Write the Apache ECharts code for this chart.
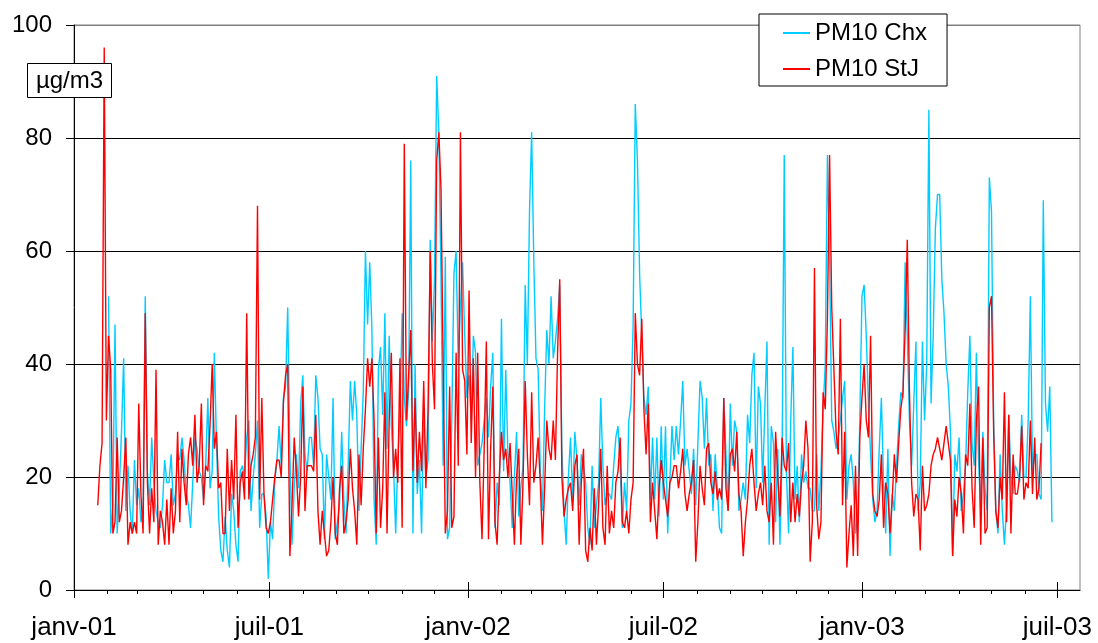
<!DOCTYPE html>
<html><head><meta charset="utf-8">
<script src="https://cdn.jsdelivr.net/npm/echarts@6/dist/echarts.min.js"></script>
<style>html,body{margin:0;padding:0;background:#fff}#c{width:1098px;height:643px}</style>
</head><body><div id="c"></div>
<script>
// Daily PM10 (µg/m3), one value every 2 days
const stepDays = 2;
const stjStart = [2001, 0, 23];
const chxStart = [2001, 1, 2];

const stjA = [15,22,26,96,30,45,39,10,12,27, 12,14,20,27,8,12,10,12,10,33, 17,10,49,19,10,18,12,39,8,14, 12,8,16,8,18,10,14,28,12,25, 19,15,24,27,22,31,19,22,33,15, 22,21,29,40,25,28,18,19,10,10, 25,14,23,16,31,11,19,21,16,49, 16,22,24,27,68,16,34,17,11,10, 12,16,20,23,23,20,33,38,40,6];
const stjB = [15,27,21,13,20,36,14,22,22,22, 21,31,14,8,14,10,6,7,12,20, 10,8,18,22,10,12,16,25,18,14, 8,24,15,25,32,41,36,41,30,10, 27,11,18,35,10,30,42,20,25,19, 41,11,79,30,38,46,21,34,19,28, 21,37,18,32,60,40,32,76,81,71, 40,10,14,36,11,13,42,22,81,39, 37,24,53,26,41,20,42,19,9,25];
const stjC = [44,9,25,36,12,8,20,28,23,25, 20,26,17,8,20,25,8,19,37,24, 15,35,19,22,27,19,8,18,30,25, 23,30,23,42,55,20,13,16,18,19, 14,22,24,8,19,25,7,5,11,7, 18,8,15,25,11,8,22,10,14,11, 19,21,27,12,11,14,10,16,19,49, 40,38,48,32,24,33,12,19,14,9, 18,23,19,16,13,19,20,22,22,18];
const stjD = [21,25,17,14,17,19,23,5,12,22, 18,15,25,26,19,17,21,16,18,16, 34,18,14,24,25,21,28,17,14,6, 12,16,22,25,19,14,17,19,15,22, 14,12,19,8,28,20,13,27,22,21, 26,12,19,12,17,13,19,22,30,25, 5,12,57,15,9,12,35,32,48,77, 50,39,28,24,48,15,28,4,10,15, 6,22,6,27,34,40,30,27,45,17];
const stjE = [14,13,16,24,11,19,17,10,16,24, 19,26,32,35,46,62,35,19,13,17, 16,7,22,14,15,17,22,24,25,27, 25,23,26,29,26,23,6,16,13,20, 17,10,24,22,33,18,11,30,36,8, 27,10,11,50,52,28,14,11,20,16, 35,12,31,10,24,17,17,20,29,16, 19,18,30,17,27,16,18,26];

const chxA = [52,10,15,47,10, 18,28,41,14,22,14,10,23,15,18, 12,14,52,21,15,27,19,14,12,11, 15,23,19,19,24,15,17,24,23,27, 23,17,15,11,19,27,25,21,20,16, 22,34,18,21,42,26,13,7,5,13, 7,4,17,14,8,5,21,22,20,27, 30,14,20,24,30,11,17,17,13,2, 12,9,19,23,29,22,34,36,50,24];
const chxB = [8,18,24,18,33,38,24,21,27,27, 22,38,34,25,24,9,24,20,16,34, 9,12,15,28,16,10,22,37,30,37, 31,14,25,35,60,47,58,46,16,8, 39,43,31,49,25,45,29,22,10,23, 32,49,34,29,35,76,10,40,17,23, 10,32,20,23,62,44,55,91,81,55, 22,59,9,11,30,56,60,40,50,58, 45,34,38,30,45,42,22,24,26,30];
const chxC = [34,27,36,42,11,19,15,48,21,39, 24,19,11,20,28,13,18,22,54,40, 67,81,58,41,39,21,14,32,46,40, 52,41,44,48,54,25,14,8,20,27, 16,28,23,15,24,22,19,11,8,22, 11,15,19,34,22,15,17,17,16,22, 27,29,22,11,19,14,30,33,47,86, 76,56,45,34,31,36,16,27,16,27, 13,29,16,29,10,19,29,23,29,24];
const chxD = [30,37,22,25,21,17,25,15,26,37, 34,25,34,22,24,14,24,18,11,10, 34,24,14,33,22,30,28,14,16,19, 16,31,26,38,42,18,36,33,19,32, 44,8,29,26,12,25,8,23,77,21, 10,30,43,16,22,12,24,19,21,18, 18,14,14,24,14,21,32,40,77,59, 30,28,25,27,30,34,37,16,22,24, 19,10,13,30,52,54,45,33,24,16];
const chxE = [12,14,25,34,19,10,25,6,17,14, 22,29,35,34,58,45,30,22,33,44, 14,19,44,30,40,85,33,45,64,70, 70,55,49,40,36,28,6,24,21,27, 14,17,22,35,45,26,22,42,23,14, 28,18,14,73,67,30,14,10,24,14, 8,15,31,20,17,22,21,19,31,20, 20,30,52,21,24,24,17,16,69,33, 28,36,12];

const seriesNames = ['PM10 Chx', 'PM10 StJ'];
const yMin = 0, yMax = 100, yStep = 20;
const xLabelMonths = [[2001,0],[2001,6],[2002,0],[2002,6],[2003,0],[2003,6]];
const monthNames = {0: 'janv', 6: 'juil'};

function build(start, parts) {
  const vals = [].concat(...parts);
  return vals.map((v, i) => [new Date(start[0], start[1], start[2] + i * stepDays).getTime(), v]);
}
const chxData = build(chxStart, [chxA, chxB, chxC, chxD, chxE]);
const stjData = build(stjStart, [stjA, stjB, stjC, stjD, stjE]);

const xMin = new Date(2001, 0, 1).getTime();
const xMax = new Date(2003, 6, 22).getTime();
const labelValues = xLabelMonths.map(d => new Date(d[0], d[1], 1).getTime());
const monthTicks = [];
for (let y = 2001; y <= 2003; y++) for (let m = 0; m < 12; m++) {
  const t = new Date(y, m, 1).getTime();
  if (t >= xMin && t <= xMax && m !== 0 && m !== 6) monthTicks.push(t);
}
const FONT = "'Liberation Sans', Arial, sans-serif";
function fmtDate(v) { const d = new Date(v); return monthNames[d.getMonth()] + '-' + String(d.getFullYear()).slice(2); }

function tickAxis(values, inside, len) {
  return {
    type: 'value', min: xMin, max: xMax, scale: true, position: 'bottom',
    axisLine: {show: false},
    axisTick: {show: true, inside: inside, length: len, customValues: values, lineStyle: {color: '#000'}},
    axisLabel: {show: false},
    splitLine: {show: false}
  };
}

const chart = echarts.init(document.getElementById('c'), null, {renderer: 'canvas'});
chart.setOption({
  animation: false,
  textStyle: {fontFamily: FONT},
  grid: {left: 74, right: 18, top: 25, bottom: 53, show: true, borderColor: '#808080', borderWidth: 1},
  xAxis: [{
    type: 'value', min: xMin, max: xMax, scale: true,
    axisLine: {lineStyle: {color: '#000', width: 1}},
    axisTick: {show: true, inside: false, length: 4, customValues: monthTicks, lineStyle: {color: '#000'}},
    axisLabel: {customValues: labelValues, fontSize: 26, color: '#000', margin: 25, fontFamily: FONT, formatter: fmtDate},
    splitLine: {show: false}
  }, tickAxis(labelValues, false, 8), tickAxis(labelValues, true, 8)],
  yAxis: {
    type: 'value', min: yMin, max: yMax, interval: yStep,
    axisLine: {show: true, lineStyle: {color: '#000'}},
    axisTick: {show: true, length: 8, lineStyle: {color: '#000'}},
    axisLabel: {fontSize: 24, color: '#000', margin: 22, fontFamily: FONT},
    splitLine: {show: true, lineStyle: {color: ['rgba(0,0,0,0)', '#000', '#000', '#000', '#000', '#808080'], width: 1}}
  },
  legend: {
    orient: 'vertical', left: 759, top: 14,
    padding: [7, 20, 5, 24], itemGap: 12, itemWidth: 27, itemHeight: 2, icon: 'rect',
    backgroundColor: '#fff', borderColor: '#000', borderWidth: 1,
    textStyle: {fontSize: 24, color: '#000', lineHeight: 24, fontFamily: FONT},
    data: seriesNames
  },
  series: [{
    name: seriesNames[0], type: 'line', data: chxData, showSymbol: false, symbol: 'none',
    lineStyle: {color: '#00CCFF', width: 1.4}, itemStyle: {color: '#00CCFF'}
  }, {
    name: seriesNames[1], type: 'line', data: stjData, showSymbol: false, symbol: 'none',
    lineStyle: {color: '#FF0000', width: 1.4}, itemStyle: {color: '#FF0000'}
  }],
  graphic: [
    {type: 'rect', shape: {x: 27.5, y: 63.5, width: 84, height: 34}, style: {fill: '#fff', stroke: '#000', lineWidth: 1}, z: 100},
    {type: 'text', x: 69.5, y: 81, style: {text: 'µg/m3', fontSize: 24, fill: '#000', align: 'center', verticalAlign: 'middle', fontFamily: FONT}, z: 101}
  ]
});
</script></body></html>
